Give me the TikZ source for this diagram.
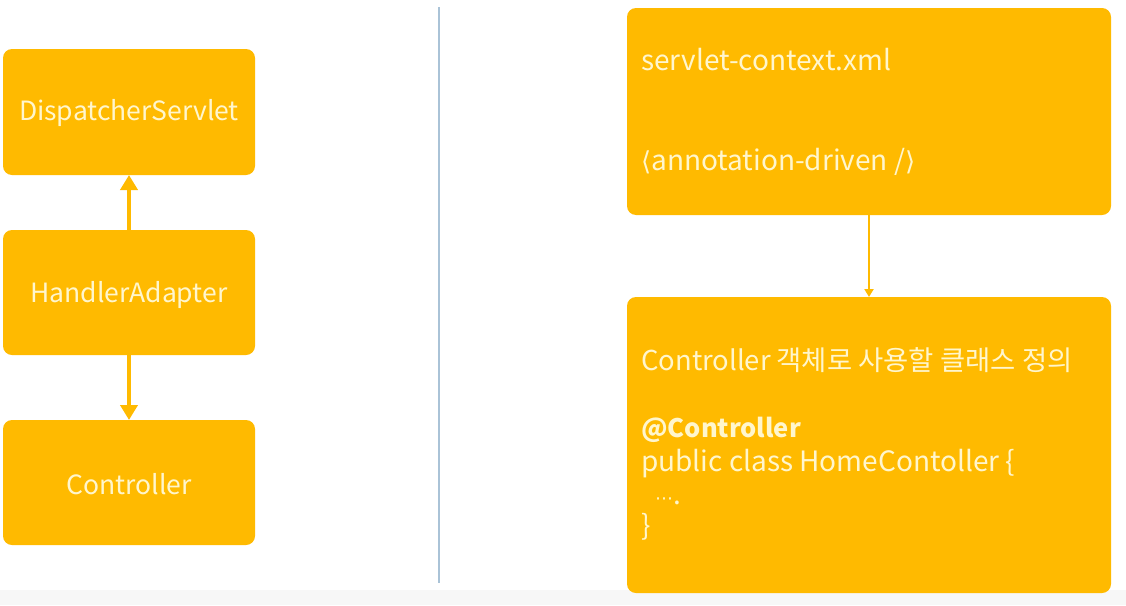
\documentclass[tikz,border=0pt]{standalone}
\usepackage{fontspec}
\setmainfont{Noto Sans CJK KR}
\newfontfamily\dejafont{DejaVu Sans}
\usetikzlibrary{arrows.meta}
\definecolor{boxfill}{RGB}{255,186,0}
\definecolor{boxtext}{RGB}{255,246,205}
\definecolor{divider}{RGB}{170,195,215}
\tikzset{
  x=1pt, y=-1pt,
  ybox/.style={fill=boxfill, draw=none, rounded corners=9pt},
  btext/.style={text=boxtext, font=\fontsize{26.5}{30}\selectfont, inner sep=0pt},
  rtext/.style={text=boxtext, font=\fontsize{28}{32}\selectfont, inner sep=0pt, anchor=base west},
  thickarrow/.style={draw=boxfill, line width=4pt, -{Triangle[length=15pt,width=17pt]}},
  thinarrow/.style={draw=boxfill, line width=2pt, -{Triangle[length=8pt,width=9pt]}},
}
\begin{document}
\begin{tikzpicture}
\useasboundingbox (0,0) rectangle (1126,605);
\fill[white] (0,0) rectangle (1126,605);
\fill[black!3] (0,590) rectangle (1126,605);
% divider
\draw[divider, line width=1.2pt] (439,7) -- (439,583);
% left boxes
\path[ybox] (3,49) rectangle (255,175);
\node[btext] (ds) at (129,113) {DispatcherServlet};
\coordinate (dsb) at (129,175);
\path[ybox] (3,230) rectangle (255,355);
\node[btext] (ha) at (129,295) {HandlerAdapter};
\coordinate (hat) at (129,230);
\coordinate (hab) at (129,355);
\path[ybox] (3,420) rectangle (255,545);
\node[btext] (ct) at (129,484) {Controller};
\coordinate (ctt) at (129,420);
\draw[thickarrow] (hat) -- (dsb);
\draw[thickarrow] (hab) -- (ctt);
% right boxes
\path[ybox] (627,8) rectangle (1111,215);
\coordinate (sxb) at (869,215);
\node[rtext] (sx) at (641,70) {servlet-context.xml};
\node[rtext] (ad) at (641,170) {{\dejafont\fontsize{26}{30}\selectfont ⟨}annotation-driven /{\dejafont\fontsize{26}{30}\selectfont ⟩}};
\path[ybox] (627,297) rectangle (1111,593);
\coordinate (cdt) at (869,297);
\node[rtext, font=\fontsize{27.4}{32}\selectfont] (kr) at (641,370) {Controller 객체로 사용할 클래스 정의};
\node[rtext, font=\fontsize{25.5}{30}\selectfont\bfseries] (at) at (641,437) {@Controller};
\node[rtext] (pc) at (641,471) {public class HomeContoller \{};
\node[rtext] (dots) at (655,504) {{\dejafont\fontsize{18}{20}\selectfont ⋯}.};
\node[rtext] (cb) at (641,535) {\}};
\draw[thinarrow] (sxb) -- (cdt);
\end{tikzpicture}
\end{document}
